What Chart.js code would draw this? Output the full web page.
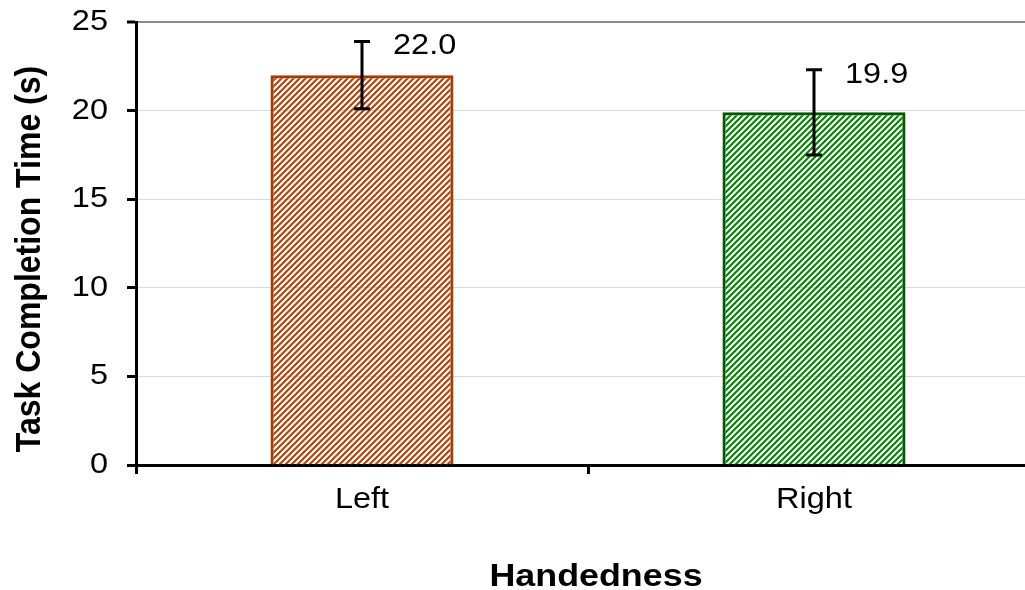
<!DOCTYPE html>
<html><head><meta charset="utf-8">
<script src="https://cdn.jsdelivr.net/npm/chart.js@4/dist/chart.umd.min.js"></script>
<style>
html,body{margin:0;padding:0;background:#fff;overflow:hidden;}
#wrap{position:relative;width:1045px;height:590px;}
</style></head><body>
<div id="wrap"><canvas id="c" width="1045" height="590"></canvas></div>
<script>
const categories = ['Left', 'Right'];
const meanTimes = [22.0, 19.9];
const errorValues = [1.9, 2.4];
const yTicks = [0, 5, 10, 15, 20, 25];
const xTitle = 'Handedness';
const yTitle = 'Task Completion Time (s)';
const hatchColors = ['#B5440A', '#088508'];
const borderColors = ['#A03C08', '#005800'];

const FAMILY = '"Liberation Sans", Arial, sans-serif';
const STRETCH = 1.12;

function hatch(color) {
  const s = 6;
  const c = document.createElement('canvas');
  c.width = s; c.height = s;
  const g = c.getContext('2d');
  g.strokeStyle = color; g.lineWidth = 2.2;
  g.beginPath();
  g.moveTo(-1, s + 1); g.lineTo(s + 1, -1);
  g.moveTo(-s / 2, s / 2); g.lineTo(s / 2, -s / 2);
  g.moveTo(s / 2, s * 1.5); g.lineTo(s * 1.5, s / 2);
  g.stroke();
  return g.createPattern(c, 'repeat');
}

function drawText(ctx, text, x, y, font, align, rot) {
  ctx.save();
  ctx.translate(x, y);
  if (rot) { ctx.rotate(-Math.PI / 2); ctx.scale(1, STRETCH); }
  else ctx.scale(STRETCH, 1);
  ctx.font = font;
  ctx.fillStyle = '#000';
  ctx.textAlign = align;
  ctx.textBaseline = 'middle';
  ctx.fillText(text, 0, 0);
  ctx.restore();
}

const errorBarPlugin = {
  id: 'errorBars',
  afterDatasetsDraw(chart) {
    const ctx = chart.ctx;
    const meta = chart.getDatasetMeta(0);
    const y = chart.scales.y;
    ctx.save();
    ctx.strokeStyle = '#000';
    ctx.lineWidth = 3;
    meta.data.forEach((bar, i) => {
      const v = meanTimes[i], e = errorValues[i];
      const yt = y.getPixelForValue(v + e), yb = y.getPixelForValue(v - e), x = bar.x;
      ctx.beginPath();
      ctx.moveTo(x, yt); ctx.lineTo(x, yb);
      ctx.moveTo(x - 8, yt); ctx.lineTo(x + 8, yt);
      ctx.moveTo(x - 8, yb); ctx.lineTo(x + 8, yb);
      ctx.stroke();
      drawText(ctx, v.toFixed(1), x + 31, yt + 5, '29px ' + FAMILY, 'left');
    });
    ctx.restore();
  }
};

const textPlugin = {
  id: 'texts',
  afterDraw(chart) {
    const ctx = chart.ctx;
    const xs = chart.scales.x, ys = chart.scales.y;
    const f = '29px ' + FAMILY;
    yTicks.forEach(v => drawText(ctx, String(v), 108, ys.getPixelForValue(v), f, 'right'));
    categories.forEach((c, i) => drawText(ctx, c, xs.getPixelForValue(i), 500, f, 'center'));
    const bf = 'bold 32px ' + FAMILY;
    drawText(ctx, xTitle, 596, 577, bf, 'center');
    drawText(ctx, yTitle, 30, 259, bf, 'center', true);
  }
};

new Chart(document.getElementById('c'), {
  type: 'bar',
  data: {
    labels: categories,
    datasets: [{
      data: meanTimes,
      backgroundColor: hatchColors.map(hatch),
      borderColor: borderColors,
      borderWidth: 3,
      barPercentage: 0.405,
      categoryPercentage: 1
    }]
  },
  options: {
    responsive: false,
    animation: false,
    devicePixelRatio: 1,
    layout: { padding: { top: 22, right: 5, left: 0, bottom: 0 } },
    plugins: { legend: { display: false }, tooltip: { enabled: false } },
    scales: {
      x: {
        offset: true,
        grid: { display: true, drawOnChartArea: false, drawTicks: true, tickLength: 9, tickColor: '#000', tickWidth: 3, offset: true },
        border: { color: '#000', width: 3 },
        ticks: { display: false },
        title: { display: false, text: xTitle },
        afterFit(s) { s.height = 125; }
      },
      y: {
        min: 0, max: 25,
        afterBuildTicks(s) { s.ticks = yTicks.map(v => ({ value: v })); },
        ticks: { display: false },
        grid: {
          color: c => (c.tick && c.tick.value === 25) ? '#8c8c8c' : '#d9d9d9',
          lineWidth: c => (c.tick && c.tick.value === 25) ? 2 : 1,
          tickColor: '#000', tickLength: 9, tickWidth: 3
        },
        border: { color: '#000', width: 3 },
        title: { display: false, text: yTitle },
        afterFit(s) { s.width = 136; }
      }
    }
  },
  plugins: [errorBarPlugin, textPlugin]
});
</script>
</body></html>
